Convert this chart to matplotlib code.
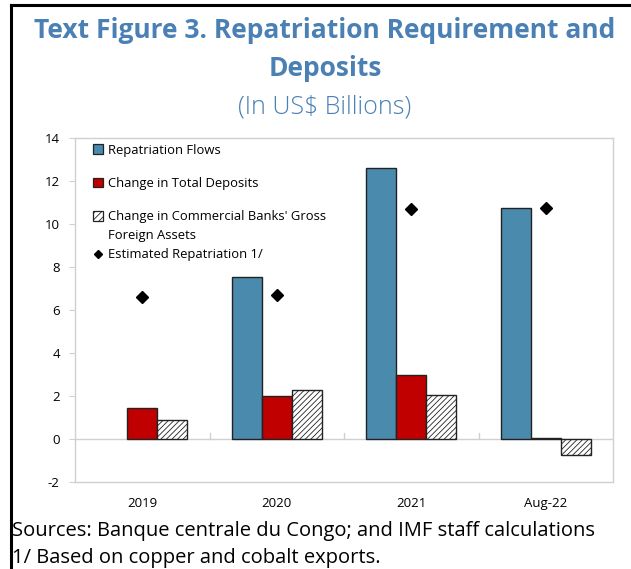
import matplotlib
matplotlib.use("Agg")
import matplotlib.pyplot as plt
from matplotlib.lines import Line2D
from matplotlib.patches import Rectangle
from matplotlib.legend_handler import HandlerPatch
import numpy as np

categories = ["2019", "2020", "2021", "Aug-22"]
repatriation_flows = [np.nan, 7.52, 12.62, 10.75]
change_total_deposits = [1.44, 1.98, 2.97, 0.05]
change_bank_foreign_assets = [0.88, 2.27, 2.03, -0.73]
estimated_repatriation = [6.59, 6.68, 10.71, 10.76]
y_ticks = [-2, 0, 2, 4, 6, 8, 10, 12, 14]

BLUE = "#4a8aad"
RED = "#c00000"
TITLE_BLUE = "#4a80b4"
GRID = "#d0d0d0"

plt.rcParams["font.family"] = ["Open Sans", "DejaVu Sans"]
plt.rcParams["hatch.linewidth"] = 0.6

fig = plt.figure(figsize=(6.31, 5.69), dpi=100)
ax = fig.add_axes([75 / 631, 87 / 569, 538 / 631, 344 / 569])

x = np.arange(len(categories))
w = 0.223
ax.bar(x - w, repatriation_flows, w, color=BLUE, edgecolor="#222222", linewidth=1.0,
       zorder=3)
ax.bar(x, change_total_deposits, w, color=RED, edgecolor="#222222", linewidth=1.0,
       zorder=3)
ax.bar(x + w, change_bank_foreign_assets, w, color="white", edgecolor="#222222",
       hatch="//////", linewidth=1.0, zorder=3)
ax.plot(x, estimated_repatriation, linestyle="none", marker="D", markersize=6.5,
        color="black", zorder=4)

ax.set_xlim(-0.5, len(categories) - 0.5)
ax.set_ylim(-2, 14)
ax.set_yticks(y_ticks)
ax.set_yticklabels([str(v) for v in y_ticks])
ax.tick_params(axis="y", direction="out", length=4, color=GRID, pad=7,
               labelsize=9.5)
ax.set_xticks(x)
ax.set_xticklabels(categories)
ax.tick_params(axis="x", length=0, pad=11, labelsize=9.5)

for s in ax.spines.values():
    s.set_color(GRID)
    s.set_linewidth(1.0)

# zero line with category separators
ax.axhline(0, color=GRID, linewidth=1.0, zorder=2)
for b in x[:-1] + 0.5:
    ax.plot([b, b], [0, 0.28], color=GRID, linewidth=1.0, zorder=2)


def make_square_patch(lift=0.0):
    def square_patch(legend, orig_handle, xdescent, ydescent, width, height, fontsize):
        side = 0.72 * fontsize
        cx = -xdescent + width / 2
        cy = -ydescent + height / 2 + lift * fontsize
        return Rectangle((cx - side / 2, cy - side / 2), side, side)
    return square_patch


def square(fc, hatch=None):
    return Rectangle((0, 0), 1, 1, facecolor=fc, edgecolor="#222222",
                     hatch=hatch, linewidth=0.9)


h_blue = square(BLUE)
h_red = square(RED)
h_hatch = square("white", "/////")
handler = {
    h_blue: HandlerPatch(patch_func=make_square_patch()),
    h_red: HandlerPatch(patch_func=make_square_patch()),
    # wrapped label: key sits beside the first line
    h_hatch: HandlerPatch(patch_func=make_square_patch(lift=0.8)),
}
leg_kw = dict(frameon=False, fontsize=9.4, handlelength=0.8, handleheight=0.8,
              handletextpad=0.35, borderaxespad=0.0)

leg1 = ax.legend(
    [h_blue, h_red, h_hatch],
    ["Repatriation Flows", "Change in Total Deposits",
     "Change in Commercial Banks' Gross\nForeign Assets"],
    loc="upper left", bbox_to_anchor=(0.023, 0.999), labelspacing=1.55,
    handler_map=handler, **leg_kw)
leg1.get_texts()[2].set_linespacing(1.6)
ax.add_artist(leg1)

ax.legend(
    [Line2D([], [], linestyle="none", marker="D", markersize=4.5, color="black")],
    ["Estimated Repatriation 1/"],
    loc="upper left", bbox_to_anchor=(0.023, 0.694), **leg_kw)

# title block
TX = 325 / 631
fig.text(TX, 1 - 30 / 569, "Text Figure 3. Repatriation Requirement and",
         ha="center", va="center", fontsize=19, fontweight="bold", color=TITLE_BLUE)
fig.text(TX, 1 - 69 / 569, "Deposits", ha="center", va="center", fontsize=19,
         fontweight="bold", color=TITLE_BLUE)
fig.text(TX, 1 - 107 / 569, "(In US$ Billions)", ha="center", va="center",
         fontsize=18, fontweight="light", color=TITLE_BLUE)

# notes
fig.text(12 / 631, 1 - 531 / 569,
         "Sources: Banque centrale du Congo; and IMF staff calculations",
         ha="left", va="center", fontsize=14.5, color="black")
fig.text(12 / 631, 1 - 558 / 569, "1/ Based on copper and cobalt exports.",
         ha="left", va="center", fontsize=14.5, color="black")

# outer frame (top and left edges)
fig.add_artist(Line2D([11 / 631, 11 / 631], [0, 1 - 5 / 569],
                      transform=fig.transFigure, color="black", linewidth=2.2))
fig.add_artist(Line2D([11 / 631, 1], [1 - 5 / 569, 1 - 5 / 569],
                      transform=fig.transFigure, color="black", linewidth=2.2))

fig.savefig("out.png", dpi=100)
